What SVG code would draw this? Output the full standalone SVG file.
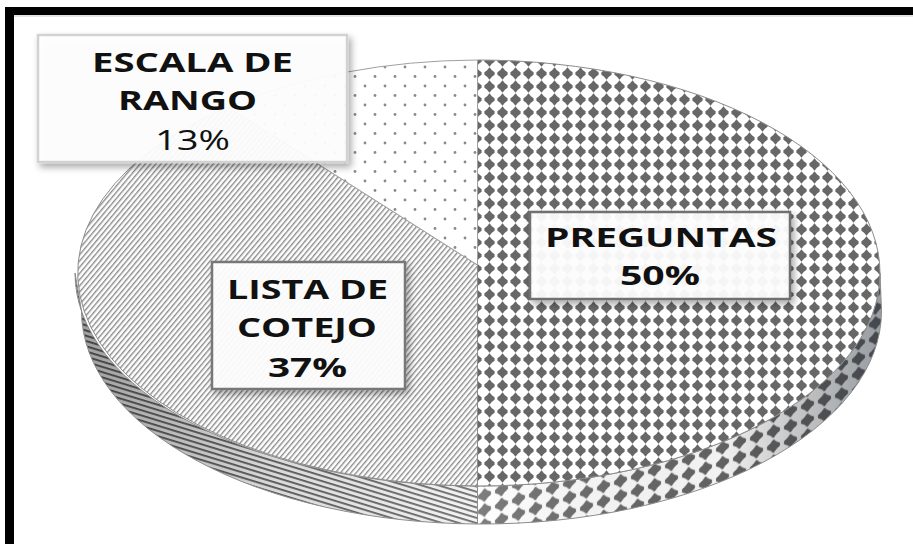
<svg xmlns="http://www.w3.org/2000/svg" width="913" height="544" viewBox="0 0 913 544">
<style>
.lbl{font-family:"Open Sans","Liberation Sans",sans-serif;font-size:27px;fill:#111;text-anchor:middle}
.b{font-weight:700}
.r{font-weight:400}
.box{fill:#fff;fill-opacity:0.93;filter:url(#sh)}
</style>
<defs>
<filter id="sh" x="-20%" y="-20%" width="150%" height="160%">
<feDropShadow dx="3" dy="4" stdDeviation="3.5" flood-color="#000" flood-opacity="0.35"/>
</filter>
<pattern id="pDiam" width="13" height="13" patternUnits="userSpaceOnUse" x="2" y="2">
<rect width="13" height="13" fill="#fff"/>
<path d="M6.5,0.3 L8.9,3.3 L11.6,5.3 L11.6,7.7 L8.9,9.7 L6.5,12.7 L4.1,9.7 L1.4,7.7 L1.4,5.3 L4.1,3.3 Z" fill="#676767"/>
</pattern>
<pattern id="pDiamSide" width="17" height="15" patternUnits="userSpaceOnUse" patternTransform="skewY(-18)">
<rect width="17" height="15" fill="#fff"/>
<path d="M8.5,0.5 L11.5,3.7 L15,6 L15,9 L11.5,11.3 L8.5,14.5 L5.5,11.3 L2,9 L2,6 L5.5,3.7 Z" fill="#676767"/>
</pattern>
<pattern id="pHatch" width="4" height="4" patternUnits="userSpaceOnUse" patternTransform="rotate(-50)">
<rect width="4" height="4" fill="#fff"/>
<rect width="4" height="1.4" fill="#8c8c8c"/>
</pattern>
<pattern id="pHatchSide" width="5" height="5" patternUnits="userSpaceOnUse" patternTransform="rotate(17)">
<rect width="5" height="5" fill="#f2f2f2"/>
<rect width="5" height="1.8" fill="#5e5e5e"/>
</pattern>
<pattern id="pDots" width="20" height="19" patternUnits="userSpaceOnUse" x="0" y="5">
<rect width="20" height="19" fill="#fff"/>
<circle cx="5" cy="5" r="1.4" fill="#8a8a8a"/>
<circle cx="15" cy="14.5" r="1.4" fill="#8a8a8a"/>
</pattern>
<linearGradient id="gRight" gradientUnits="userSpaceOnUse" x1="477" y1="0" x2="882" y2="0">
<stop offset="0" stop-color="#fff" stop-opacity="0.15"/>
<stop offset="0.6" stop-color="#000" stop-opacity="0.05"/>
<stop offset="1" stop-color="#1a2530" stop-opacity="0.45"/>
</linearGradient>
<linearGradient id="gLeft" gradientUnits="userSpaceOnUse" x1="75" y1="0" x2="477" y2="0">
<stop offset="0" stop-color="#000" stop-opacity="0.35"/>
<stop offset="0.5" stop-color="#000" stop-opacity="0.1"/>
<stop offset="1" stop-color="#fff" stop-opacity="0.1"/>
</linearGradient>
</defs>
<rect width="913" height="544" fill="#fff"/>
<g id="frame">
<rect x="5" y="14" width="908" height="3" fill="#e4e4e4"/>
<rect x="5" y="7" width="908" height="8" fill="#000"/>
<rect x="5" y="7" width="9" height="537" fill="#000"/>
</g>
<g id="pie">
<g id="side">
<path d="M880,273 A402.5,213 0 0 1 477.5,486 L477.5,524 A400,213 0 0 0 881.5,311 Z" fill="url(#pDiamSide)"/>
<path d="M880,273 A402.5,213 0 0 1 477.5,486 L477.5,524 A400,213 0 0 0 881.5,311 Z" fill="url(#gRight)" stroke="#8c8c8c" stroke-width="1"/>
<path d="M477.5,486 A402.5,213 0 0 1 75,273 L81.5,311 A400,213 0 0 0 477.5,524 Z" fill="url(#pHatchSide)"/>
<path d="M477.5,486 A402.5,213 0 0 1 75,273 L81.5,311 A400,213 0 0 0 477.5,524 Z" fill="url(#gLeft)" stroke="#8c8c8c" stroke-width="1"/>
</g>
<g id="slice-preguntas">
<path d="M477.5,60 A402.5,213 0 0 1 880,273 A402.5,213 0 0 1 477.5,486 Z" fill="url(#pDiam)" stroke="#8c8c8c" stroke-width="1"/>
</g>
<g id="slice-lista">
<path d="M477.5,265 L477.5,486 A402.5,213 0 0 1 228,107 Z" fill="url(#pHatch)" stroke="#8c8c8c" stroke-width="1"/>
</g>
<g id="slice-escala">
<path d="M477.5,265 L228,107 A402.5,213 0 0 1 477.5,60 Z" fill="url(#pDots)" stroke="#a0a0a0" stroke-width="1"/>
</g>
</g>
<g id="label-escala">
<rect class="box" x="38" y="35" width="309" height="127" stroke="#d2d2d2" stroke-width="2.5"/>
<text class="lbl b" x="192.5" y="72" textLength="201" lengthAdjust="spacingAndGlyphs">ESCALA DE</text>
<text class="lbl b" x="187.5" y="110" textLength="139" lengthAdjust="spacingAndGlyphs">RANGO</text>
<text class="lbl r" x="192.5" y="150" textLength="75" lengthAdjust="spacingAndGlyphs">13%</text>
</g>
<g id="label-preguntas">
<rect class="box" x="530" y="212" width="260" height="87" stroke="#707070" stroke-width="2.5"/>
<text class="lbl b" x="661" y="247" textLength="232" lengthAdjust="spacingAndGlyphs">PREGUNTAS</text>
<text class="lbl b" x="660" y="285" textLength="80" lengthAdjust="spacingAndGlyphs">50%</text>
</g>
<g id="label-lista">
<rect class="box" x="212" y="262" width="193" height="127" stroke="#777" stroke-width="2.5"/>
<text class="lbl b" x="307.5" y="299" textLength="161" lengthAdjust="spacingAndGlyphs">LISTA DE</text>
<text class="lbl b" x="307" y="337" textLength="140" lengthAdjust="spacingAndGlyphs">COTEJO</text>
<text class="lbl b" x="307.5" y="377" textLength="79" lengthAdjust="spacingAndGlyphs">37%</text>
</g>
</svg>
